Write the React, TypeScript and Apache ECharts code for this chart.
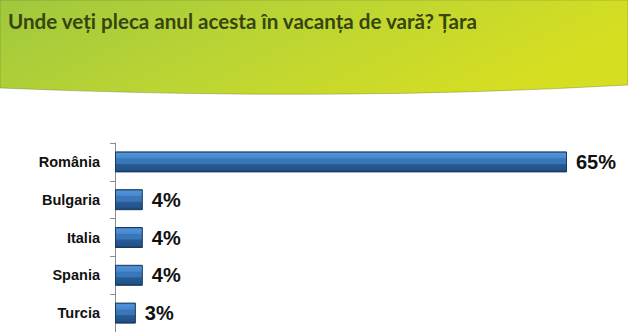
import React, { useEffect, useRef } from "react";
import * as echarts from "echarts";

const countries = ["România", "Bulgaria", "Italia", "Spania", "Turcia"];
const shares = [65, 4, 4, 4, 3];
const titleText = "Unde veți pleca anul acesta în vacanța de vară? Țara";

echarts.graphic.registerShape(
  "headerBand",
  echarts.graphic.extendPath("M0 0 H628 V85 Q330 102 0 88 Z", {})
);

export default function App() {
  const ref = useRef<HTMLDivElement>(null);

  useEffect(() => {
    if (!ref.current) return;
    const chart = echarts.init(ref.current, null, { renderer: "svg" });

    // bevelled look: light upper rim, flat middle, darker lower half
    const barFill = new echarts.graphic.LinearGradient(0, 0, 0, 1, [
      { offset: 0, color: "#2f64a0" },
      { offset: 0.08, color: "#5092d8" },
      { offset: 0.3, color: "#4887cc" },
      { offset: 0.34, color: "#3a76ba" },
      { offset: 0.58, color: "#3a76ba" },
      { offset: 0.62, color: "#275c95" },
      { offset: 0.9, color: "#22528a" },
      { offset: 1, color: "#163a62" },
    ]);

    chart.setOption({
      animation: false,
      backgroundColor: "#ffffff",
      graphic: [
        {
          type: "headerBand",
          x: 0,
          y: 0,
          z: -10,
          style: {
            fill: new echarts.graphic.LinearGradient(0, 0, 1, 0.3, [
              { offset: 0, color: "#9fc83e" },
              { offset: 0.5, color: "#bcd533" },
              { offset: 1, color: "#d6de22" },
            ]),
            stroke: "rgba(90,110,40,0.35)",
            lineWidth: 1,
          },
        },
        {
          type: "text",
          left: 8,
          top: 10,
          style: {
            text: titleText,
            fill: "#37450f",
            font: "bold 20.6px Lato, sans-serif",
          },
        },
      ],
      grid: {
        left: 115,
        right: 61,
        top: 143,
        height: 194.5,
        containLabel: false,
      },
      xAxis: {
        type: "value",
        min: 0,
        max: 65,
        show: false,
      },
      yAxis: {
        type: "category",
        data: countries,
        inverse: true,
        axisLine: { show: true, lineStyle: { color: "#8c8c8c", width: 1 } },
        axisTick: {
          show: true,
          length: 5,
          alignWithLabel: false,
          lineStyle: { color: "#8c8c8c" },
        },
        axisLabel: {
          margin: 15,
          color: "#111111",
          fontFamily: "'Liberation Sans', Arial, sans-serif",
          fontWeight: "bold",
          fontSize: 14.5,
        },
        splitLine: { show: false },
      },
      series: [
        {
          type: "bar",
          data: shares,
          barWidth: 21,
          itemStyle: {
            color: barFill,
            borderColor: "#163a62",
            borderWidth: 1,
          },
          label: {
            show: true,
            position: "right",
            distance: 9,
            formatter: "{c}%",
            color: "#111111",
            fontFamily: "'Liberation Sans', Arial, sans-serif",
            fontWeight: "bold",
            fontSize: 20,
          },
        },
      ],
    });

    return () => chart.dispose();
  }, []);

  return <div ref={ref} style={{ width: 628, height: 332, position: "absolute", left: 0, top: 0 }} />;
}
